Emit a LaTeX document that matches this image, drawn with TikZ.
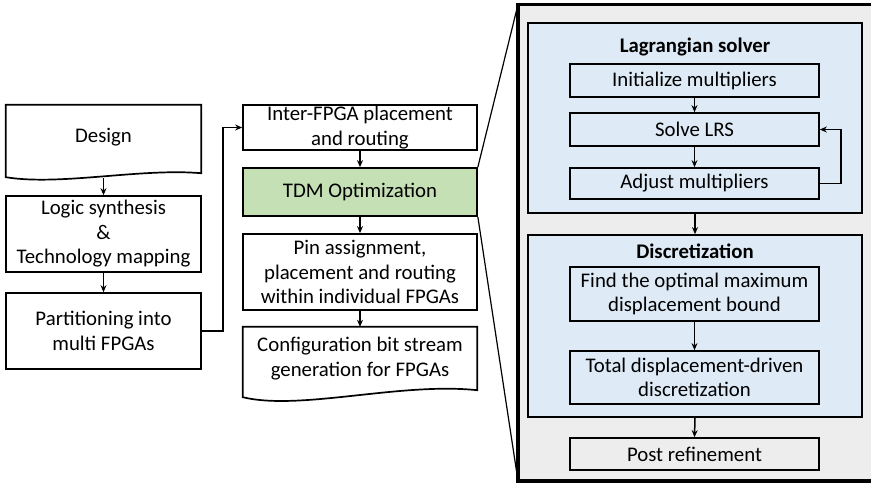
\documentclass[tikz,border=0pt]{standalone}
\usepackage{fontspec}
\setmainfont{Carlito}
\usetikzlibrary{arrows.meta}
\definecolor{tdmgreen}{HTML}{C5E0B4}
\definecolor{panelblue}{HTML}{DEEBF7}
\definecolor{panelgray}{HTML}{EDEDED}
\newcommand\myfs{\fontsize{20.8}{24.5}\selectfont}
\begin{document}
\begin{tikzpicture}[x=1pt,y=-1pt,
  box/.style={draw, line width=1.7pt, fill=white, inner sep=0pt, align=center, font=\myfs},
  txt/.style={inner sep=0pt, align=center, font=\myfs},
  arr/.style={-{Stealth[length=7pt,width=6pt]}, line width=1.5pt},
  zoomline/.style={line width=1.2pt}]
\useasboundingbox (0,0) rectangle (871,483);
% panel
\node[fill=panelgray, inner sep=0pt, minimum width=360pt, minimum height=476pt, anchor=north west] (panel) at (518,4.5) {};
\draw[line width=3.2pt] ([xshift=10pt]panel.north east) -- (panel.north west) -- (panel.south west) -- ([xshift=10pt]panel.south east);
% left column
\node[txt, minimum width=195pt, minimum height=64pt] (design) at (103.5,137) {};
\draw[line width=1.7pt, fill=white] (design.north west) -- (design.north east) -- ([yshift=-4pt]design.south east)
  .. controls (140,168) and (60,186) .. ([yshift=-8pt]design.south west) -- cycle;
\node[txt] at (design) {Design};
\coordinate (dwave) at (103.5,178);
\node[box, minimum width=195pt, minimum height=76pt] (logic) at (103.5,234) {Logic synthesis\\\&\\Technology mapping};
\node[box, minimum width=195pt, minimum height=76pt] (part) at (103.5,331) {Partitioning into\\multi FPGAs};
% middle column
\node[box, minimum width=234pt, minimum height=45pt] (inter) at (360,127.5) {Inter-FPGA placement\\and routing};
\node[box, fill=tdmgreen, minimum width=234pt, minimum height=48pt] (tdm) at (360,192) {TDM Optimization};
\node[box, minimum width=234pt, minimum height=76pt] (pin) at (360,272) {Pin assignment,\\placement and routing\\within individual FPGAs};
\node[txt, minimum width=234pt, minimum height=63pt] (config) at (360,358.5) {};
\draw[line width=1.7pt, fill=white] (config.north west) -- (config.north east) -- (config.south east)
  .. controls (400,382) and (300,411) .. ([yshift=-7pt]config.south west) -- cycle;
\node[txt] at (config) {Configuration bit stream\\generation for FPGAs};
% zoom lines
\draw[zoomline] (tdm.north east) -- (panel.north west);
\draw[zoomline] (tdm.south east) -- (panel.south west);
% right panel
\node[box, fill=panelblue, minimum width=334pt, minimum height=190pt] (lag) at (695,118) {};
\node[txt, font=\myfs\bfseries] (lagt) at (695,47) {Lagrangian solver};
\node[box, fill=panelblue, minimum width=249pt, minimum height=33pt] (init) at (694.5,80.5) {Initialize multipliers};
\node[box, fill=panelblue, minimum width=249pt, minimum height=33pt] (solve) at (694.5,129.5) {Solve LRS};
\node[box, fill=panelblue, minimum width=249pt, minimum height=31pt] (adjust) at (694.5,183.5) {Adjust multipliers};
\node[box, fill=panelblue, minimum width=334pt, minimum height=182pt] (disc) at (695,326) {};
\node[txt, font=\myfs\bfseries] (disct) at (695,251) {Discretization};
\node[box, fill=panelblue, minimum width=249pt, minimum height=54pt] (find) at (694.5,294) {Find the optimal maximum\\displacement bound};
\node[box, fill=panelblue, minimum width=249pt, minimum height=53pt] (total) at (694.5,377.5) {Total displacement-driven\\discretization};
\node[box, fill=panelgray, minimum width=249pt, minimum height=32pt] (post) at (694.5,454) {Post refinement};
% connectors
\draw[arr] (dwave) -- (logic.north);
\draw[arr] (logic) -- (part);
\draw[arr] (part.east) -- ++(21,0) |- (inter.west);
\draw[arr] (inter) -- (tdm);
\draw[arr] (tdm) -- (pin);
\draw[arr] (pin) -- (config.north);
\draw[arr] (init) -- (solve);
\draw[arr] (solve) -- (adjust);
\draw[arr] (adjust.east) -- ++(21,0) |- (solve.east);
\draw[arr] (lag.south) -- (disc.north);
\draw[arr] (find) -- (total);
\draw[arr] (disc.south) -- (post.north);
\end{tikzpicture}
\end{document}
